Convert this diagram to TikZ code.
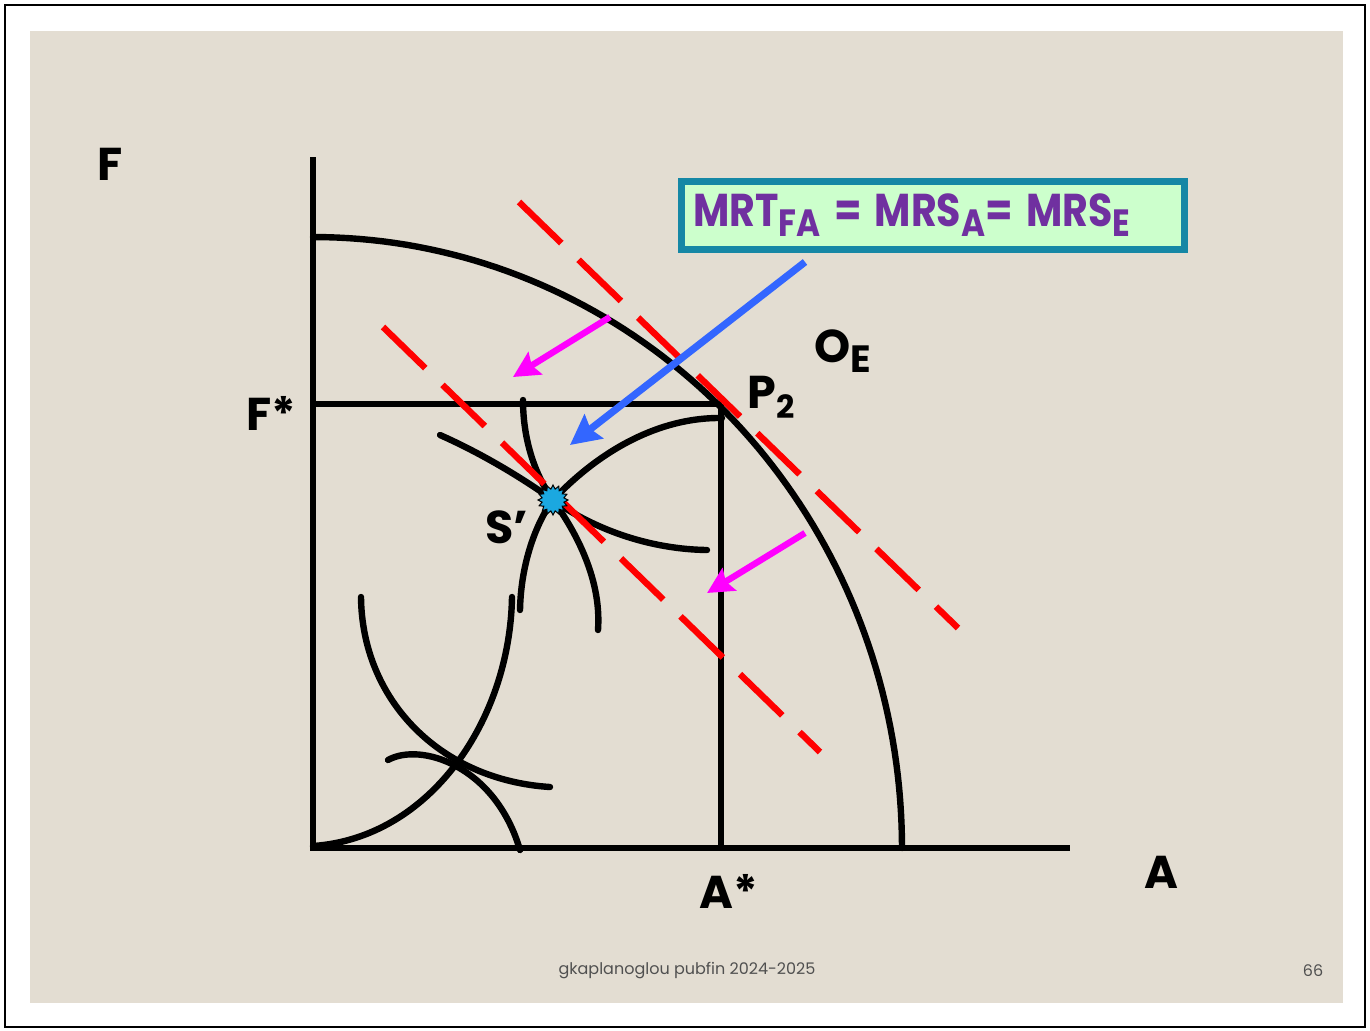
\documentclass[tikz,border=0pt]{standalone}
\usepackage{fontspec}
\usepackage{graphicx}
\setmainfont{Poppins}
\usetikzlibrary{arrows.meta, shapes.geometric}
\definecolor{SlideBeige}{HTML}{E3DDD2}
\definecolor{BoxTeal}{HTML}{1587A5}
\definecolor{BoxGreen}{HTML}{CCFFCC}
\definecolor{EqPurple}{HTML}{7030A0}
\definecolor{ArrowBlue}{HTML}{3366FF}
\definecolor{ArrowPink}{HTML}{FF00FF}
\definecolor{StarCyan}{HTML}{1BA8E0}
\definecolor{FootGrey}{HTML}{505050}
\newcommand{\lowidx}[2][16]{\raisebox{-5pt}{\fontsize{#1}{#1}\selectfont #2}}

\begin{document}
\begin{tikzpicture}[x=0.5pt, y=-0.5pt, >=Stealth,
    axis/.style={line width=3.2pt},
    curve/.style={line width=3.2pt, line cap=round},
    budget/.style={red, line width=3.2pt, dash pattern=on 29.5pt off 12pt},
    shiftarrow/.style={ArrowPink, line width=3.2pt,
                  -{Stealth[length=13pt, width=13pt, inset=2pt]}},
    lbl/.style={font=\fontsize{23}{23}\selectfont\bfseries,
                inner sep=0pt, anchor=base west},
    eqbox/.style={draw=BoxTeal, line width=3.5pt, fill=BoxGreen,
                  text=EqPurple, font=\fontsize{23}{23}\selectfont\bfseries,
                  minimum width=251.5pt, minimum height=34pt,
                  text width=239.5pt, inner xsep=6pt, align=left}]
  % Slide frame
  \useasboundingbox (0,0) rectangle (1370,1030);
  \fill[white] (0,0) rectangle (1370,1030);
  \draw[line width=1pt] (5,5) rectangle (1365,1027);
  \fill[SlideBeige] (30,31) rectangle (1343,1003);
  % Axes and F*, A* lines
  \draw[axis] (313,157) -- (313,848) -- (1070,848);
  \draw[axis] (313,404) -- (722,404);
  \draw[axis] (721,404) -- (721,848);
  % Production possibility frontier
  \draw[curve] plot[domain=0:90, samples=80]
    ({313+589*cos(\x)}, {848-611*sin(\x)});
  % Curves through S'
  \coordinate (S) at (553,500);
  \draw[curve] (440,435) .. controls (485,455) and (525,480) .. (S)
    .. controls (585,523) and (640,549) .. (707,550);
  \draw[curve] (523,400) .. controls (523,440) and (535,475) .. (S)
    .. controls (571,525) and (602,575) .. (598,630);
  \draw[curve] (722,418) .. controls (660,417) and (600,450) .. (S)
    .. controls (538,520) and (521,560) .. (520,610);
  \draw[curve] (313,846) .. controls (430,838) and (510,720) .. (512,597);
  % Curves near the origin
  \draw[curve] (361,597) .. controls (362,700) and (440,780) .. (550,787);
  \draw[curve] (388,760) .. controls (420,742) and (495,765) .. (520,850);
  % Price lines
  \draw[budget] (519,202) -- (958,628);
  \draw[budget] (383,327) -- (820,752);
  % Arrows
  \coordinate (shiftA) at (610,317);
  \coordinate (shiftAend) at (513,377);
  \coordinate (shiftB) at (805,533);
  \coordinate (shiftBend) at (707,593);
  \coordinate (pointTail) at (805,262);
  \coordinate (pointTip) at (570,445);
  \draw[shiftarrow] (shiftA) -- (shiftAend);
  \draw[shiftarrow] (shiftB) -- (shiftBend);
  \draw[ArrowBlue, line width=3.6pt,
        -{Stealth[length=15pt, width=15pt, inset=2pt]}] (pointTail) -- (pointTip);
  % Point S'
  \node[star, star points=16, star point ratio=1.35, minimum size=15pt,
        inner sep=0pt, fill=StarCyan, draw=black, line width=0.5pt] (sstar) at (S) {};
  % Condition box
  \node[eqbox] (mrt) at (933,215.5)
    {\scalebox{0.86}[1]{MRT\lowidx[19]{FA} = MRS\lowidx[19]{A}= MRS\lowidx[19]{E}}};
  % Labels
  \node[lbl] (lblF) at (97,180) {F};
  \node[lbl] (lblFstar) at (246,430) {F*};
  \node[lbl] (lblA) at (1144,888) {A};
  \node[lbl] (lblAstar) at (699,908) {A*};
  \node[lbl] (lblP) at (747,408) {P\lowidx{2}};
  \node[lbl] (lblO) at (814,362) {O\lowidx[19]{E}};
  \node[lbl] (lblS) at (485,543) {S’};
  % Footer
  \node[font=\fontsize{8}{8}\selectfont, text=FootGrey] (foot) at (687,971)
    {gkaplanoglou pubfin 2024-2025};
  \node[font=\fontsize{8}{8}\selectfont, text=FootGrey] (page) at (1313,971) {66};
\end{tikzpicture}
\end{document}
